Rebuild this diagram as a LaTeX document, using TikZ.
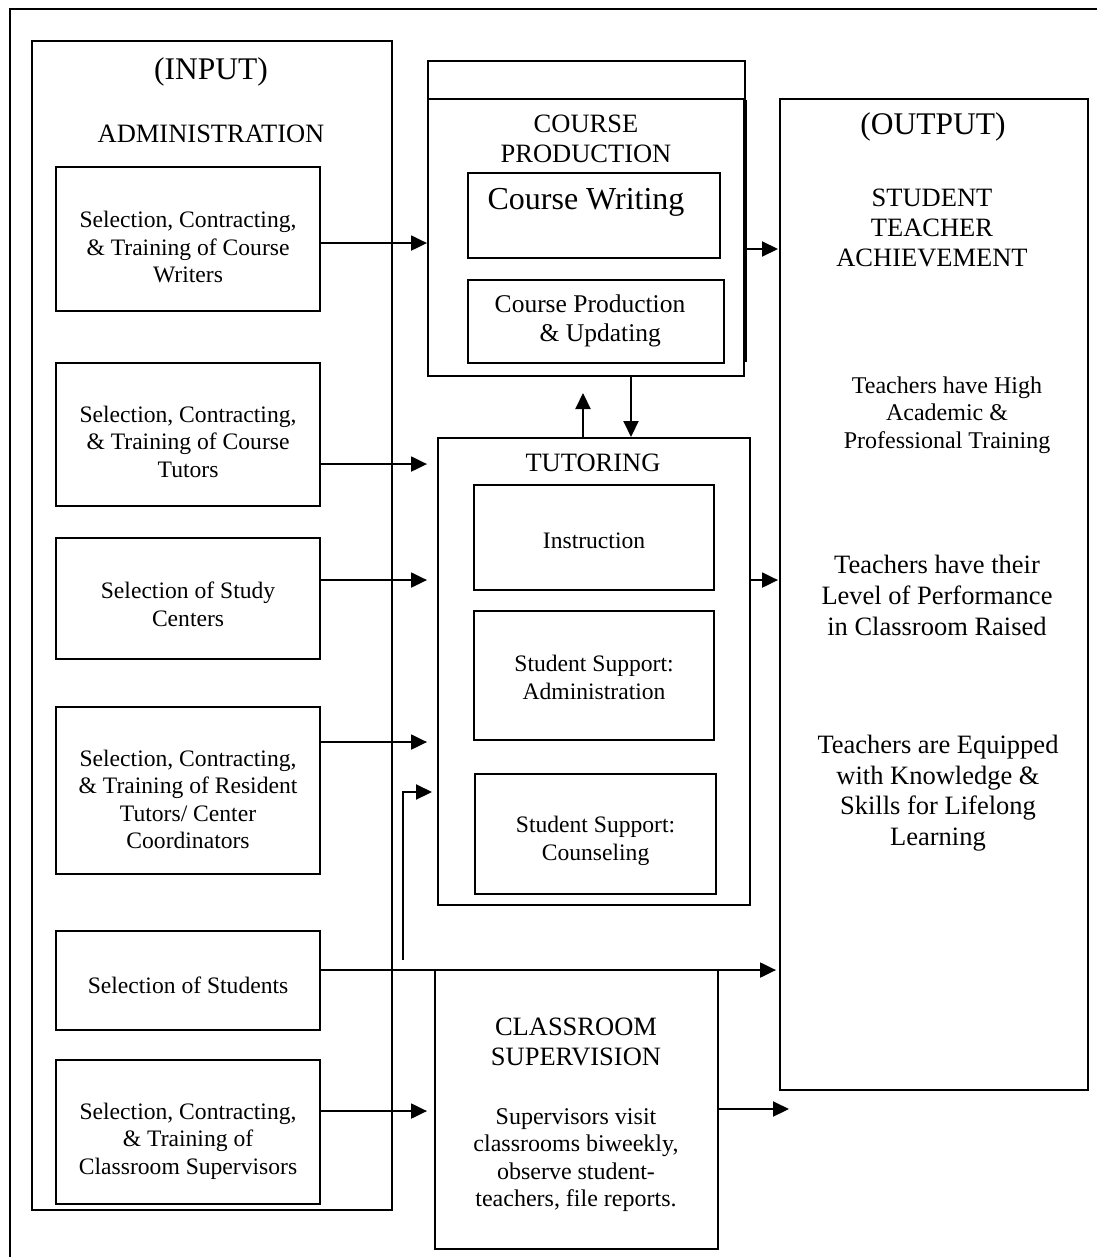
\documentclass[tikz,border=0pt]{standalone}
\usepackage{fontspec}
\setmainfont{Liberation Serif}
\usetikzlibrary{arrows.meta,calc}
\begin{document}
\begin{tikzpicture}[x=1pt,y=-1pt,
  box/.style={draw,line width=2.1pt,inner sep=0pt,anchor=north west},
  txt/.style={align=center,inner sep=0pt,font=\fontsize{23.6}{27.5}\selectfont},
  hd/.style={align=center,inner sep=0pt,font=\fontsize{26.5}{30}\selectfont},
  big/.style={align=center,inner sep=0pt,font=\fontsize{31.5}{34}\selectfont},
  arr/.style={line width=2.1pt,-{Triangle[length=16pt,width=15pt]}},
  ln/.style={line width=2.1pt}]
\useasboundingbox (0,0) rectangle (1096,1257);
% outer frame (right and bottom edges fall outside the page)
\draw[ln] (1120,9) -- (10,9) -- (10,1280);

% INPUT column
\node[box,minimum width=360pt,minimum height=1169pt] (input) at (31,40) {};
\node[big] (inputt) at (211,72) {(INPUT)};
\node[hd] (admin) at (211,134) {ADMINISTRATION};

\node[box,minimum width=264pt,minimum height=144pt] (writers) at (55,166) {};
\node[txt] (writerst) at ([yshift=-8pt]writers.center) {Selection, Contracting,\\ \& Training of Course\\ Writers};
\node[box,minimum width=264pt,minimum height=143pt] (tutors) at (55,362) {};
\node[txt] (tutorst) at ([yshift=-7pt]tutors.center) {Selection, Contracting,\\ \& Training of Course\\ Tutors};
\node[box,minimum width=264pt,minimum height=121pt] (study) at (55,537) {};
\node[txt] (studyt) at ([yshift=-6pt]study.center) {Selection of Study\\ Centers};
\node[box,minimum width=264pt,minimum height=167pt] (resident) at (55,706) {};
\node[txt] (residentt) at ([yshift=-9pt]resident.center) {Selection, Contracting,\\ \& Training of Resident\\ Tutors/ Center\\ Coordinators};
\node[box,minimum width=264pt,minimum height=99pt] (students) at (55,930) {};
\node[txt] (studentst) at ([yshift=-5pt]students.center) {Selection of Students};
\node[box,minimum width=264pt,minimum height=144pt] (superv) at (55,1059) {};
\node[txt] (supervt) at ([yshift=-9pt]superv.center) {Selection, Contracting,\\ \& Training of\\ Classroom Supervisors};

% COURSE PRODUCTION
\node[box,minimum width=317pt,minimum height=38pt] (cpA) at (427,60) {};
\node[box,minimum width=316pt,minimum height=277pt] (cpB) at (427,98) {};
\draw[ln] (cpA.south east) -- ++(0,262);
\node[hd,font=\fontsize{26.5}{29.5}\selectfont] (cpt) at (586,139) {COURSE\\ PRODUCTION};
\node[box,minimum width=252pt,minimum height=85pt] (cwrite) at (467,172) {};
\node[inner sep=0pt,font=\fontsize{32}{36}\selectfont] (cwritet) at (586,202) {Course Writing};
\node[box,minimum width=256pt,minimum height=83pt] (cprod) at (467,279) {};
\node[inner sep=0pt,align=left,font=\fontsize{25.5}{29}\selectfont] (cprodt) at (590,321) {Course Production\\ \hspace*{45pt}\& Updating};

% TUTORING
\node[box,minimum width=312pt,minimum height=467pt] (tutoring) at (437,437) {};
\node[hd] (tutoringt) at (593,463) {TUTORING};
\node[box,minimum width=240pt,minimum height=105pt] (instr) at (473,484) {};
\node[txt] (instrt) at ([yshift=-3pt]instr.center) {Instruction};
\node[box,minimum width=240pt,minimum height=129pt] (ssadmin) at (473,610) {};
\node[txt] (ssadmint) at ([yshift=-2pt]ssadmin.center) {Student Support:\\ Administration};
\node[box,minimum width=241pt,minimum height=120pt] (sscouns) at (474,773) {};
\node[txt] (sscounst) at ([yshift=-7pt]sscouns.center) {Student Support:\\ Counseling};

% CLASSROOM SUPERVISION
\node[box,minimum width=283pt,minimum height=279pt] (classroom) at (434,969) {};
\node[hd] (classt) at (576,1042) {CLASSROOM\\ SUPERVISION};
\node[txt,font=\fontsize{24}{27.5}\selectfont] (classbody) at (576,1160) {Supervisors visit\\ classrooms biweekly,\\ observe student-\\ teachers, file reports.};

% OUTPUT
\node[box,minimum width=308pt,minimum height=991pt] (output) at (779,98) {};
\node[big] (outputt) at (933,127) {(OUTPUT)};
\node[hd] (sta) at (932,228) {STUDENT\\ TEACHER\\ ACHIEVEMENT};
\node[txt,font=\fontsize{24}{27.5}\selectfont] (o1) at (947,415) {Teachers have High\\ Academic \&\\ Professional Training};
\node[hd,font=\fontsize{26.5}{31}\selectfont] (o2) at (937,595) {Teachers have their\\ Level of Performance\\ in Classroom Raised};
\node[hd,font=\fontsize{26.5}{30.5}\selectfont] (o3) at (938,793) {Teachers are Equipped\\ with Knowledge \&\\ Skills for Lifelong\\ Learning};

% connectors
\draw[arr] ([yshift=-4pt]writers.east) -- ([yshift=-4pt]writers.east -| cpB.west);
\draw[arr,shorten >=10pt] ([yshift=-29.5pt]tutors.east) -- ([yshift=-29.5pt]tutors.east -| tutoring.west);
\draw[arr,shorten >=10pt] ([yshift=18.5pt]study.east) -- ([yshift=18.5pt]study.east -| tutoring.west);
\draw[arr,shorten >=10pt] ([yshift=48.5pt]resident.east) -- ([yshift=48.5pt]resident.east -| tutoring.west);
\coordinate (lstart) at (403,960);
\coordinate (lturn) at (403,792);
\draw[arr,shorten >=5pt] (lstart) -- (lturn) -- (lturn -| tutoring.west);
\draw[arr,shorten >=3pt] ([yshift=10.5pt]students.east) -- ([yshift=10.5pt]students.east -| output.west);
\draw[arr,shorten >=7pt] ([yshift=21pt]superv.east) -- ([yshift=21pt]superv.east -| classroom.west);
\coordinate (csout) at (789,1109);
\draw[arr] (classroom.east |- csout) -- (csout);
\coordinate (cpy) at (0,249);
\draw[arr,shorten >=1pt] (cpA.east |- cpy) -- (output.west |- cpy);
\draw[arr,shorten >=1pt] ([yshift=91.5pt]tutoring.east) -- ([yshift=91.5pt]tutoring.east -| output.west);
\coordinate (uptip) at (583,393);
\draw[arr] (tutoring.north -| uptip) -- (uptip);
\coordinate (dnx) at (631,0);
\draw[arr] (cpB.south -| dnx) -- (tutoring.north -| dnx);
\end{tikzpicture}
\end{document}
